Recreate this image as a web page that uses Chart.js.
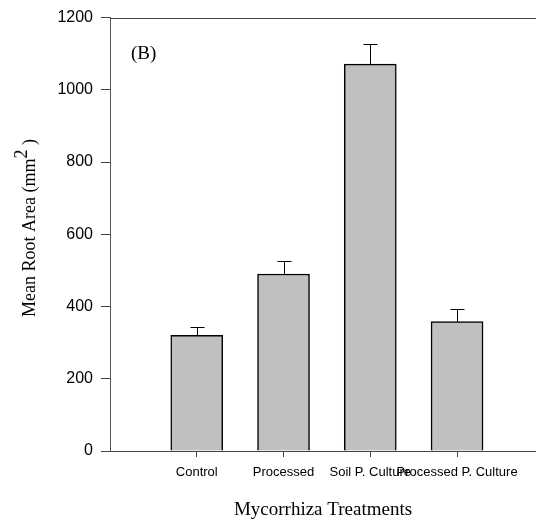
<!DOCTYPE html>
<html>
<head>
<meta charset="utf-8">
<script src="https://cdn.jsdelivr.net/npm/chart.js@4"></script>
<style>
  html, body { margin: 0; padding: 0; background: #fff; }
  #wrap { width: 536px; height: 522px; }
</style>
</head>
<body>
<div id="wrap"><canvas id="rootChart" width="536" height="522"></canvas></div>
<script>
// treatments and values
const treatments = ['Control', 'Processed', 'Soil P. Culture', 'Processed P. Culture'];
const meanArea = [320, 490, 1071, 358];
const errUp = [24, 37, 56, 35];
const yTicks = [0, 200, 400, 600, 800, 1000, 1200];

const serif = '"Liberation Serif", "Times New Roman", serif';
const sans = '"Liberation Sans", Arial, sans-serif';

// error bars, top frame line and text labels
const extras = {
  id: 'extras',
  afterDatasetsDraw(chart) {
    const { ctx, scales: { x, y }, chartArea } = chart;
    ctx.save();
    ctx.strokeStyle = '#000';
    ctx.lineWidth = 1;
    meanArea.forEach((v, i) => {
      const px = Math.round(x.getPixelForValue(i + 1)) + 0.5;
      const y0 = y.getPixelForValue(v);
      const y1 = Math.round(y.getPixelForValue(v + errUp[i])) + 0.5;
      ctx.beginPath();
      ctx.moveTo(px, y0);
      ctx.lineTo(px, y1);
      ctx.moveTo(px - 7, y1);
      ctx.lineTo(px + 7, y1);
      ctx.stroke();
    });

    // top frame line
    const yt = Math.round(y.getPixelForValue(1200)) + 0.5;
    ctx.strokeStyle = '#444';
    ctx.beginPath();
    ctx.moveTo(chartArea.left, yt);
    ctx.lineTo(chartArea.right, yt);
    ctx.stroke();

    ctx.fillStyle = '#000';
    ctx.font = '19px ' + serif;
    ctx.textBaseline = 'middle';
    ctx.textAlign = 'left';
    ctx.fillText('(B)', 131, 54);

    ctx.textAlign = 'center';
    ctx.fillText('Mycorrhiza Treatments', 323, 510);

    // y title with superscript
    ctx.translate(30, 228);
    ctx.rotate(-Math.PI / 2);
    const a = 'Mean Root Area (mm', b = '2', c = ' )';
    ctx.font = '18px ' + serif;
    const wa = ctx.measureText(a).width;
    const wb = ctx.measureText(b).width;
    const wc = ctx.measureText(c).width;
    let sx = -(wa + wb + wc) / 2;
    ctx.textAlign = 'left';
    ctx.fillText(a, sx, 0);
    sx += wa;
    ctx.fillText(b, sx, -8);
    sx += wb;
    ctx.fillText(c, sx, 0);
    ctx.restore();
  }
};

new Chart(document.getElementById('rootChart'), {
  type: 'bar',
  data: {
    datasets: [{
      data: meanArea.map((v, i) => ({ x: i + 1, y: v })),
      backgroundColor: '#c0c0c0',
      borderColor: '#000',
      borderWidth: 1.5,
      barThickness: 52
    }]
  },
  options: {
    responsive: false,
    animation: false,
    layout: { padding: { top: 16, left: 0, right: 0, bottom: 0 } },
    plugins: { legend: { display: false }, tooltip: { enabled: false } },
    scales: {
      x: {
        type: 'linear',
        offset: false,
        min: 0,
        max: 4.91,
        afterFit: (s) => { s.height = 71; },
        afterBuildTicks: (s) => { s.ticks = treatments.map((t, i) => ({ value: i + 1 })); },
        ticks: {
          color: '#000',
          font: { family: sans, size: 13 },
          padding: 8,
          maxRotation: 0,
          autoSkip: false,
          callback: (v) => treatments[v - 1]
        },
        grid: { offset: false, drawOnChartArea: false, tickLength: 6, color: '#444' },
        border: { color: '#444', width: 1 }
      },
      y: {
        min: 0,
        max: 1200,
        afterFit: (s) => { s.width = 110; },
        afterBuildTicks: (s) => { s.ticks = yTicks.map(v => ({ value: v })); },
        ticks: {
          color: '#000',
          font: { family: sans, size: 16 },
          padding: 8,
          callback: (v) => String(v)
        },
        grid: { drawOnChartArea: false, tickLength: 9, color: '#444' },
        border: { color: '#555', width: 1 }
      }
    }
  },
  plugins: [extras]
});
</script>
</body>
</html>
